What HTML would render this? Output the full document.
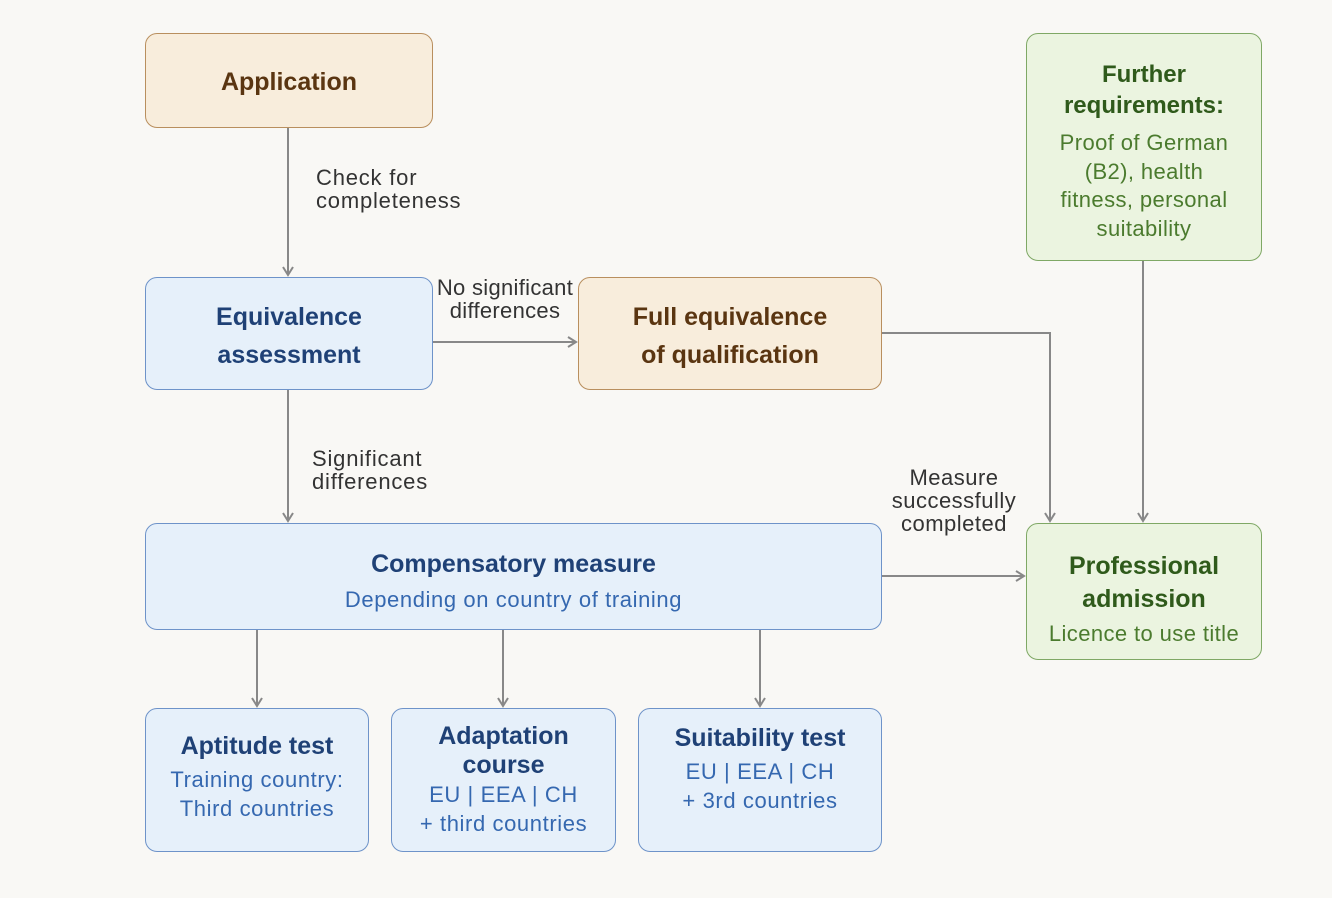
<!DOCTYPE html>
<html><head><meta charset="utf-8"><style>
body{margin:0;background:#f9f8f5;font-family:"Liberation Sans",sans-serif;}
.c{position:relative;width:1332px;height:898px;overflow:hidden;}
.b{position:absolute;box-sizing:border-box;border-radius:12px;display:flex;flex-direction:column;align-items:center;justify-content:center;text-align:center;}
.o{background:#f8eddc;border:1.3px solid #b98f5e;color:#5a3511;}
.bl{background:#e6f0fa;border:1.3px solid #6e93c9;color:#1f4176;}
.g{background:#ebf4e0;border:1.3px solid #7fa865;color:#2f5a1b;}
.t{font-size:25px;line-height:38px;font-weight:bold;}
.s{font-size:22px;line-height:29px;color:#3568b0;letter-spacing:0.6px;}
.gs{font-size:22px;line-height:28.5px;color:#4b7b2e;letter-spacing:0.4px;}
.l{position:absolute;font-size:22px;line-height:23px;color:#333;letter-spacing:0.8px;}
</style></head><body><div class="c">
<svg width="1332" height="898" style="position:absolute;left:0;top:0">
<defs><marker id="a" markerWidth="12" markerHeight="12" refX="10" refY="6" orient="auto" markerUnits="userSpaceOnUse"><path d="M2,1 L10,6 L2,11" fill="none" stroke="#888" stroke-width="2"/></marker></defs>
<g stroke="#888" stroke-width="2" fill="none">
<path d="M288,127 V275" marker-end="url(#a)"/>
<path d="M433,342 H576" marker-end="url(#a)"/>
<path d="M288,389 V521" marker-end="url(#a)"/>
<path d="M881,333 H1050 V521" marker-end="url(#a)"/>
<path d="M1143,260 V521" marker-end="url(#a)"/>
<path d="M881,576 H1024" marker-end="url(#a)"/>
<path d="M257,629 V706" marker-end="url(#a)"/>
<path d="M503,629 V706" marker-end="url(#a)"/>
<path d="M760,629 V706" marker-end="url(#a)"/>
</g></svg>
<div class="b o t" style="left:145px;top:33px;width:288px;height:95px;padding-top:2px">Application</div>
<div class="b bl t" style="left:145px;top:277px;width:288px;height:113px;padding-top:4px">Equivalence<br>assessment</div>
<div class="b o t" style="left:578px;top:277px;width:304px;height:113px;padding-top:4px">Full equivalence<br>of qualification</div>
<div class="b g" style="left:1026px;top:33px;width:236px;height:228px;padding-top:8px"><div style="font-size:24px;line-height:31px;font-weight:bold">Further<br>requirements:</div><div class="gs" style="margin-top:8px">Proof of German<br>(B2), health<br>fitness, personal<br>suitability</div></div>
<div class="b bl" style="left:145px;top:523px;width:737px;height:107px;padding-top:5px"><div class="t">Compensatory measure</div><div class="s" style="margin-top:2px">Depending on country of training</div></div>
<div class="b g" style="left:1026px;top:523px;width:236px;height:137px;padding-top:16px"><div style="font-size:25px;line-height:33px;font-weight:bold">Professional<br>admission</div><div class="gs" style="margin-top:4px">Licence to use title</div></div>
<div class="b bl" style="left:145px;top:708px;width:224px;height:144px;padding-bottom:10px"><div class="t">Aptitude test</div><div class="s">Training country:<br>Third countries</div></div>
<div class="b bl" style="left:391px;top:708px;width:225px;height:144px"><div style="font-size:25px;line-height:29px;font-weight:bold">Adaptation<br>course</div><div class="s">EU | EEA | CH<br>+ third countries</div></div>
<div class="b bl" style="left:638px;top:708px;width:244px;height:144px;justify-content:flex-start;padding-top:10px"><div class="t">Suitability test</div><div class="s">EU | EEA | CH<br>+ 3rd countries</div></div>
<div class="l" style="left:316px;top:166px">Check for<br>completeness</div>
<div class="l" style="left:426px;top:276px;width:158px;text-align:center;letter-spacing:0.3px">No significant<br>differences</div>
<div class="l" style="left:312px;top:447px">Significant<br>differences</div>
<div class="l" style="left:879px;top:466px;width:150px;text-align:center;letter-spacing:0.5px">Measure<br>successfully<br>completed</div>
</div></body></html>
